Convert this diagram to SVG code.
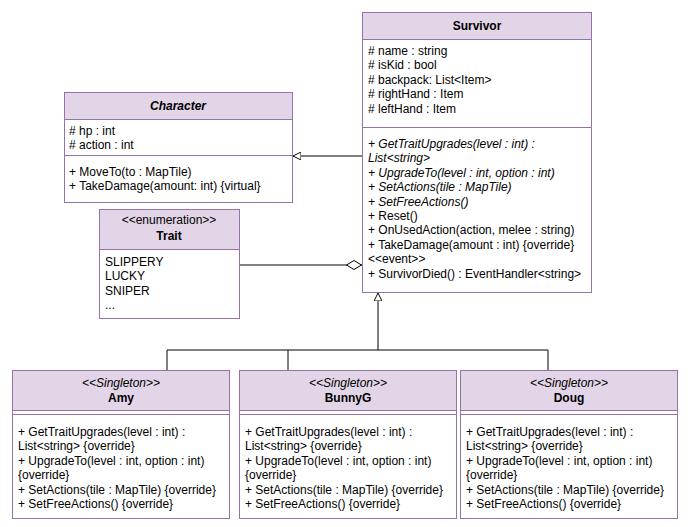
<svg xmlns="http://www.w3.org/2000/svg" width="693" height="527" viewBox="0 0 693 527">
<style>
.box{fill:#ffffff;stroke:#9673a6;stroke-width:1}
.hdr{fill:#e1d5e7;stroke:#9673a6;stroke-width:1}
.sep{stroke:#9673a6;stroke-width:1;fill:none}
text{font-family:"Liberation Sans",Arial,Helvetica,sans-serif;font-size:12px;fill:#000}
.t{font-weight:bold;text-anchor:middle}
.c{text-anchor:middle}
.i{font-style:italic}
.edge{stroke:#000;stroke-width:1;fill:none}
</style>
<defs>
<marker id="tri" viewBox="0 0 10 10" refX="10" refY="5" markerWidth="8" markerHeight="8" markerUnits="userSpaceOnUse" orient="auto">
<path d="M0,0 L10,5 L0,10 Z" fill="#fff" stroke="#000" stroke-width="1.2"/>
</marker>
<marker id="dia" viewBox="0 0 16 10" refX="16" refY="5" markerWidth="16" markerHeight="10" markerUnits="userSpaceOnUse" orient="auto">
<path d="M0.5,5 L8,0.5 L15.5,5 L8,9.5 Z" fill="#fff" stroke="#000" stroke-width="1"/>
</marker>
</defs>

<g id="connectors">
<path class="edge" d="M362,156 L293,156" marker-end="url(#tri)"/>
<path class="edge" d="M239,265 L362,265" marker-end="url(#dia)"/>
<path class="edge" d="M378,350 L378,293" marker-end="url(#tri)"/>
<path class="edge" d="M167,350 L548,350"/>
<path class="edge" d="M167,350 L167,370"/>
<path class="edge" d="M288,350 L288,370"/>
<path class="edge" d="M548,350 L548,370"/>
</g>

<g id="Survivor">
<rect class="hdr" x="362.5" y="12.5" width="229" height="27"/>
<rect class="box" x="362.5" y="39.5" width="229" height="253"/>
<line class="sep" x1="362.5" y1="127.5" x2="591.5" y2="127.5"/>
<text class="t" x="477" y="30">Survivor</text>
<text x="368" y="55"># name : string</text>
<text x="368" y="69.4"># isKid : bool</text>
<text x="368" y="83.8"># backpack: List&lt;Item&gt;</text>
<text x="368" y="98.2"># rightHand : Item</text>
<text x="368" y="112.6"># leftHand : Item</text>
<text class="i" x="368" y="148">+ GetTraitUpgrades(level : int) :</text>
<text class="i" x="368" y="162.4">List&lt;string&gt;</text>
<text class="i" x="368" y="176.8">+ UpgradeTo(level : int, option : int)</text>
<text class="i" x="368" y="191.2">+ SetActions(tile : MapTile)</text>
<text class="i" x="368" y="205.6">+ SetFreeActions()</text>
<text x="368" y="220">+ Reset()</text>
<text x="368" y="234.4">+ OnUsedAction(action, melee : string)</text>
<text x="368" y="248.8">+ TakeDamage(amount : int) {override}</text>
<text x="368" y="263.2">&lt;&lt;event&gt;&gt;</text>
<text x="368" y="277.6">+ SurvivorDied() : EventHandler&lt;string&gt;</text>
</g>

<g id="Character">
<rect class="hdr" x="64.5" y="92.5" width="228" height="27"/>
<rect class="box" x="64.5" y="119.5" width="228" height="83"/>
<line class="sep" x1="64.5" y1="155.5" x2="292.5" y2="155.5"/>
<text class="t i" x="178" y="109.5">Character</text>
<text x="69" y="135">#  hp : int</text>
<text x="69" y="149.4"># action : int</text>
<text x="69" y="176">+ MoveTo(to : MapTile)</text>
<text x="69" y="190.4">+ TakeDamage(amount: int) {virtual}</text>
</g>

<g id="Trait">
<rect class="hdr" x="99.5" y="209.5" width="140" height="40"/>
<rect class="box" x="99.5" y="249.5" width="140" height="69"/>
<text class="c" x="169" y="224">&lt;&lt;enumeration&gt;&gt;</text>
<text class="t" x="169" y="240">Trait</text>
<text x="105" y="266">SLIPPERY</text>
<text x="105" y="280.4">LUCKY</text>
<text x="105" y="294.8">SNIPER</text>
<text x="105" y="309.2">...</text>
</g>

<g id="Amy">
<rect class="hdr" x="12.5" y="370.5" width="217" height="40"/>
<rect class="box" x="12.5" y="410.5" width="217" height="108"/>
<line class="sep" x1="12.5" y1="414.5" x2="229.5" y2="414.5"/>
<text class="c i" x="121" y="387">&lt;&lt;Singleton&gt;&gt;</text>
<text class="t" x="121" y="402">Amy</text>
<text x="18" y="436">+ GetTraitUpgrades(level : int) :</text>
<text x="18" y="450.4">List&lt;string&gt; {override}</text>
<text x="18" y="464.8">+ UpgradeTo(level : int, option : int)</text>
<text x="18" y="479.2">{override}</text>
<text x="18" y="493.6">+ SetActions(tile : MapTile) {override}</text>
<text x="18" y="508">+ SetFreeActions() {override}</text>
</g>

<g id="BunnyG">
<rect class="hdr" x="239.5" y="370.5" width="217" height="40"/>
<rect class="box" x="239.5" y="410.5" width="217" height="108"/>
<line class="sep" x1="239.5" y1="414.5" x2="456.5" y2="414.5"/>
<text class="c i" x="348" y="387">&lt;&lt;Singleton&gt;&gt;</text>
<text class="t" x="348" y="402">BunnyG</text>
<text x="245" y="436">+ GetTraitUpgrades(level : int) :</text>
<text x="245" y="450.4">List&lt;string&gt; {override}</text>
<text x="245" y="464.8">+ UpgradeTo(level : int, option : int)</text>
<text x="245" y="479.2">{override}</text>
<text x="245" y="493.6">+ SetActions(tile : MapTile) {override}</text>
<text x="245" y="508">+ SetFreeActions() {override}</text>
</g>

<g id="Doug">
<rect class="hdr" x="460.5" y="370.5" width="217" height="40"/>
<rect class="box" x="460.5" y="410.5" width="217" height="108"/>
<line class="sep" x1="460.5" y1="414.5" x2="677.5" y2="414.5"/>
<text class="c i" x="569" y="387">&lt;&lt;Singleton&gt;&gt;</text>
<text class="t" x="569" y="402">Doug</text>
<text x="466" y="436">+ GetTraitUpgrades(level : int) :</text>
<text x="466" y="450.4">List&lt;string&gt; {override}</text>
<text x="466" y="464.8">+ UpgradeTo(level : int, option : int)</text>
<text x="466" y="479.2">{override}</text>
<text x="466" y="493.6">+ SetActions(tile : MapTile) {override}</text>
<text x="466" y="508">+ SetFreeActions() {override}</text>
</g>
</svg>
